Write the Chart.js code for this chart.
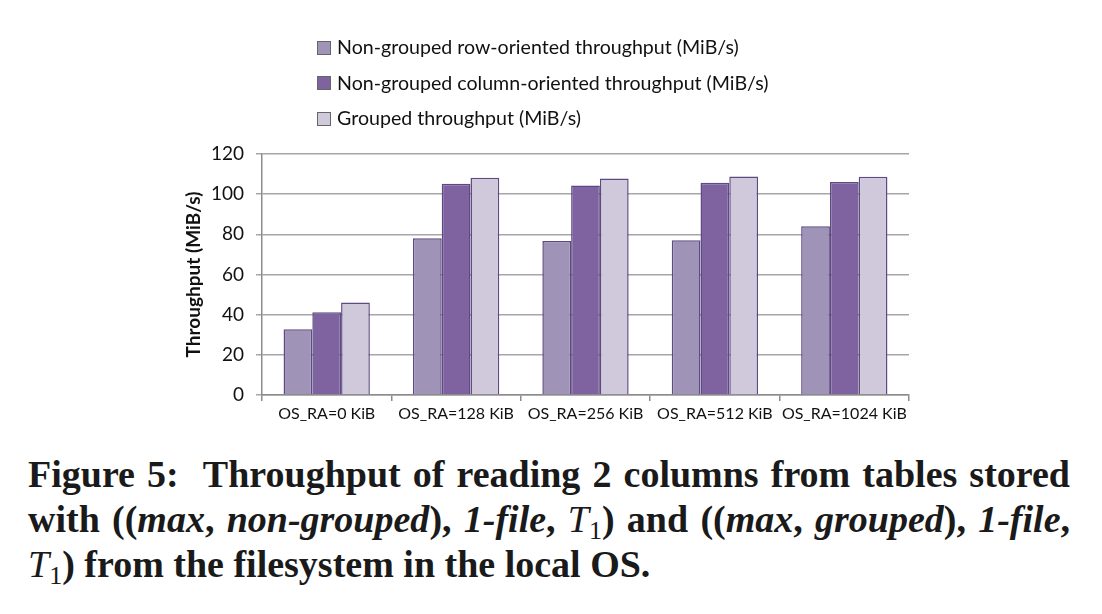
<!DOCTYPE html>
<html>
<head>
<meta charset="utf-8">
<script src="https://cdn.jsdelivr.net/npm/chart.js@4.4.0/dist/chart.umd.min.js"></script>
<style>
  body { margin: 0; background: #fff; width: 1102px; height: 614px; position: relative; overflow: hidden; }
  #wrap { position: absolute; left: 0; top: 0; width: 1102px; height: 440px; }
  #legenda { position: absolute; left: 317px; top: 30px; font-family: Lato, "Open Sans", sans-serif; font-size: 19.6px; color: #111; }
  #legenda div { height: 35.5px; display: flex; align-items: center; }
  #legenda span.box { display: inline-block; width: 12px; height: 12px; border: 1px solid #666; margin-right: 6px; }
  #legenda span.box + span { position: relative; top: -1px; }
  #caption { position: absolute; left: 28px; top: 452px; width: 1042px; font-family: "Liberation Serif", "Times New Roman", serif; font-weight: bold; font-size: 38px; line-height: 45px; color: #1a1a1a; }
  #caption .linha { text-align: justify; text-align-last: justify; white-space: nowrap; }
  #caption .ult { text-align: left; text-align-last: left; }
  #caption i { font-style: italic; }
  #caption .m { font-weight: normal; font-style: italic; }
  #caption sub { font-weight: normal; font-style: normal; font-size: 26px; vertical-align: -7px; line-height: 0; }
</style>
</head>
<body>
<div id="wrap"><canvas id="grafico" width="1102" height="440"></canvas></div>
<div id="legenda"></div>
<div id="caption">
  <div class="linha">Figure 5: &nbsp;Throughput of reading 2 columns from tables stored</div>
  <div class="linha">with ((<i>max</i>, <i>non-grouped</i>), <i>1-file</i>, <span class="m">T</span><sub>1</sub>) and ((<i>max</i>, <i>grouped</i>), <i>1-file</i>,</div>
  <div class="linha ult"><span class="m">T</span><sub>1</sub>) from the filesystem in the local OS.</div>
</div>
<script>
// categorias (OS read-ahead)
const categorias = ['OS_RA=0 KiB', 'OS_RA=128 KiB', 'OS_RA=256 KiB', 'OS_RA=512 KiB', 'OS_RA=1024 KiB'];

// valores (MiB/s)
const linhaNaoAgrupado = [32.8, 78, 76.7, 77, 84];
const colunaNaoAgrupado = [41.2, 105.2, 104.3, 105.7, 106];
const agrupado = [46, 108.2, 107.8, 108.8, 108.7];

const nomesSeries = [
    'Non-grouped row-oriented throughput (MiB/s)',
    'Non-grouped column-oriented throughput (MiB/s)',
    'Grouped throughput (MiB/s)'
];

const ticksY = [0, 20, 40, 60, 80, 100, 120];

const fonte = 'Lato, "Open Sans", sans-serif';

const dados = {
    labels: categorias,
    datasets: [
        {
            label: nomesSeries[0],
            data: linhaNaoAgrupado,
            backgroundColor: '#A093B8',
            borderColor: '#5E4A82',
            borderWidth: 1.5
        },
        {
            label: nomesSeries[1],
            data: colunaNaoAgrupado,
            backgroundColor: '#7F63A1',
            borderColor: '#5E4A82',
            borderWidth: 1.5
        },
        {
            label: nomesSeries[2],
            data: agrupado,
            backgroundColor: '#D0C9DC',
            borderColor: '#5E4A82',
            borderWidth: 1.5
        }
    ]
};

const config = {
    type: 'bar',
    data: dados,
    options: {
        responsive: false,
        animation: false,
        layout: { padding: { left: 182, right: 193, top: 154, bottom: 0 } },
        datasets: {
            bar: { categoryPercentage: 0.667, barPercentage: 1.0 }
        },
        plugins: {
            legend: { display: false },
            tooltip: { enabled: false }
        },
        scales: {
            x: {
                grid: { display: true, drawOnChartArea: false, offset: true, color: '#8C8C8C', lineWidth: 1.5, tickLength: 6 },
                border: { color: '#8C8C8C', width: 1.5 },
                ticks: { color: '#111', font: { family: fonte, size: 16 }, padding: 3, maxRotation: 0, autoSkip: false },
                afterFit: (s) => { s.height = 45; }
            },
            y: {
                min: 0,
                max: 120,
                afterBuildTicks: (s) => { s.ticks = ticksY.map(v => ({ value: v })); },
                grid: { color: '#A6A6A6', lineWidth: 1.5, tickLength: 6 },
                border: { color: '#8C8C8C', width: 1.5 },
                ticks: { color: '#111', font: { family: fonte, size: 19 }, padding: 12 },
                title: {
                    display: true,
                    text: 'Throughput (MiB/s)',
                    color: '#111',
                    font: { family: fonte, size: 19, weight: 'bold' },
                    padding: { top: 0, bottom: 0 }
                },
                afterFit: (s) => { s.width = 80; }
            }
        }
    }
};

const meuGrafico = new Chart(document.getElementById('grafico'), config);

// legenda em html, montada a partir dos datasets
const legenda = document.getElementById('legenda');
meuGrafico.options.plugins.legend.labels.generateLabels(meuGrafico).forEach((item) => {
    const linha = document.createElement('div');
    linha.innerHTML = `<span class="box" style="background:${item.fillStyle}"></span><span>${item.text}</span>`;
    legenda.appendChild(linha);
});
</script>
</body>
</html>
